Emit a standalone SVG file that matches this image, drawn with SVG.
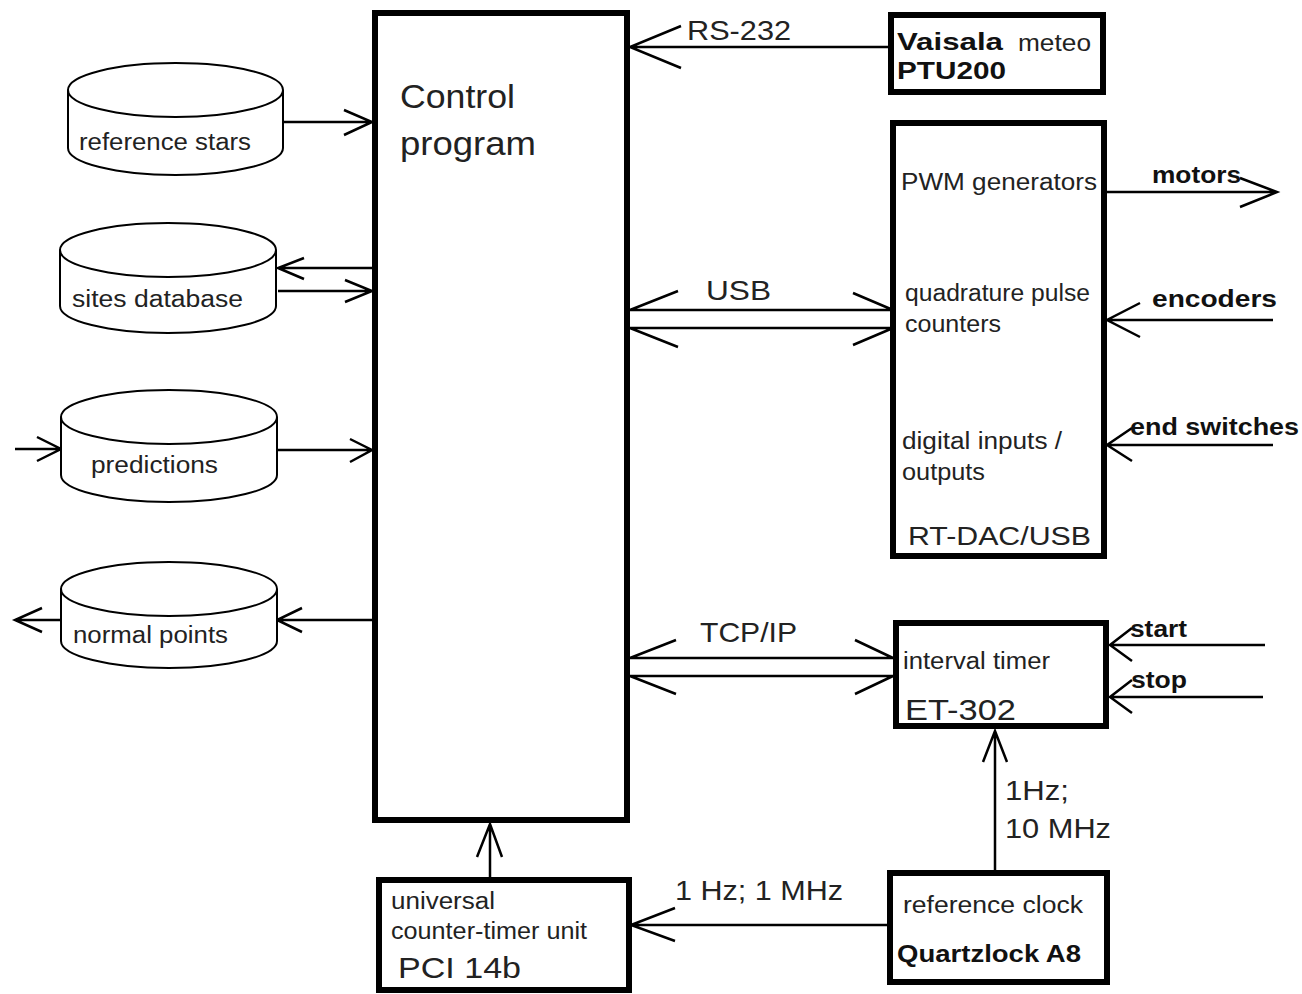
<svg xmlns="http://www.w3.org/2000/svg" width="1302" height="994" viewBox="0 0 1302 994">
<style>
.box{fill:#fff;stroke:#000;stroke-width:6}
.cyl{fill:#fff;stroke:#000;stroke-width:2}
.ln{fill:none;stroke:#000;stroke-width:2.5}
.t{font-family:"Liberation Sans",Arial,sans-serif;fill:#222}
.s{font-size:23px}
.m{font-size:28px}
.b{font-weight:bold;fill:#111}
</style>
<rect width="1302" height="994" fill="#fff"/>
<g id="connectors">
<path class="ln" d="M283,122 H372 M344,110 L372,122 L344,135"/>
<path class="ln" d="M372,268 H278 M304,258 L278,268 L304,279"/>
<path class="ln" d="M278,291 H372 M345,280 L372,291 L345,302"/>
<path class="ln" d="M15,449 H61 M37,437 L61,449 L37,461"/>
<path class="ln" d="M277,450 H372 M350,439 L372,450 L350,462"/>
<path class="ln" d="M372,620 H277 M302,608 L277,620 L302,632"/>
<path class="ln" d="M62,620 H15 M42,608 L15,620 L42,632"/>
<path class="ln" d="M890,47 H630 M681,26 L630,47 L681,68"/>
<path class="ln" d="M630,310 H893 M678,291 L630,310 M853,293 L893,310"/>
<path class="ln" d="M630,328 H893 M678,347 L630,328 M853,345 L893,328"/>
<path class="ln" d="M630,658 H893 M676,640 L630,658 M855,640 L893,658"/>
<path class="ln" d="M630,676 H893 M676,694 L630,676 M855,694 L893,676"/>
<path class="ln" d="M1105,192 H1277 M1240,178 L1277,192 L1240,207"/>
<path class="ln" d="M1273,320 H1107 M1140,303 L1107,320 L1140,337"/>
<path class="ln" d="M1273,445 H1107 M1132,428 L1107,445 L1132,461"/>
<path class="ln" d="M1265,645 H1110 M1132,628 L1110,645 L1132,661"/>
<path class="ln" d="M1263,697 H1110 M1132,680 L1110,697 L1132,713"/>
<path class="ln" d="M995,870 V731 M983,762 L995,731 L1007,762"/>
<path class="ln" d="M887,925 H631 M675,908 L631,925 L675,941"/>
<path class="ln" d="M490,877 V824 M477,857 L490,824 L502,857"/>
<text class="t m" x="687" y="40" fill="#333" textLength="104" lengthAdjust="spacingAndGlyphs">RS-232</text>
<text class="t m" x="706" y="300" textLength="65" lengthAdjust="spacingAndGlyphs">USB</text>
<text class="t m" x="700" y="642" textLength="97" lengthAdjust="spacingAndGlyphs">TCP/IP</text>
<text class="t s b" x="1152" y="183" textLength="89" lengthAdjust="spacingAndGlyphs">motors</text>
<text class="t s b" x="1152" y="307" textLength="125" lengthAdjust="spacingAndGlyphs">encoders</text>
<text class="t s b" x="1130" y="435" textLength="169" lengthAdjust="spacingAndGlyphs">end switches</text>
<text class="t s b" x="1130" y="637" textLength="57" lengthAdjust="spacingAndGlyphs">start</text>
<text class="t s b" x="1131" y="688" textLength="56" lengthAdjust="spacingAndGlyphs">stop</text>
<text class="t m" x="1005" y="800" textLength="64" lengthAdjust="spacingAndGlyphs">1Hz;</text>
<text class="t m" x="1005" y="838" textLength="106" lengthAdjust="spacingAndGlyphs">10 MHz</text>
<text class="t m" x="675" y="900" textLength="168" lengthAdjust="spacingAndGlyphs">1 Hz; 1 MHz</text>
</g>
<g id="reference-stars">
<path class="cyl" d="M68,90 V148 A107.5,27 0 0 0 283,148 V90"/>
<ellipse class="cyl" cx="175.5" cy="90" rx="107.5" ry="27"/>
<text class="t s" x="79" y="150" textLength="172" lengthAdjust="spacingAndGlyphs">reference stars</text>
</g>
<g id="sites-database">
<path class="cyl" d="M60,250 V306 A108,27 0 0 0 276,306 V250"/>
<ellipse class="cyl" cx="168" cy="250" rx="108" ry="27"/>
<text class="t s" x="72" y="307" textLength="171" lengthAdjust="spacingAndGlyphs">sites database</text>
</g>
<g id="predictions">
<path class="cyl" d="M61,417 V475 A108,27 0 0 0 277,475 V417"/>
<ellipse class="cyl" cx="169" cy="417" rx="108" ry="27"/>
<text class="t s" x="91" y="473" textLength="127" lengthAdjust="spacingAndGlyphs">predictions</text>
</g>
<g id="normal-points">
<path class="cyl" d="M61,589 V641 A108,27 0 0 0 277,641 V589"/>
<ellipse class="cyl" cx="169" cy="589" rx="108" ry="27"/>
<text class="t s" x="73" y="643" textLength="155" lengthAdjust="spacingAndGlyphs">normal points</text>
</g>
<g id="control-program">
<rect class="box" x="375" y="13" width="252" height="807"/>
<text class="t" x="400" y="108" font-size="33" textLength="115" lengthAdjust="spacingAndGlyphs">Control</text>
<text class="t" x="400" y="155" font-size="33" textLength="136" lengthAdjust="spacingAndGlyphs">program</text>
</g>
<g id="vaisala">
<rect class="box" x="891" y="15" width="212" height="77"/>
<text class="t b" x="897" y="50" font-size="24" textLength="106" lengthAdjust="spacingAndGlyphs">Vaisala</text>
<text class="t s" x="1018" y="51" textLength="73" lengthAdjust="spacingAndGlyphs">meteo</text>
<text class="t b" x="897" y="79" font-size="24" textLength="109" lengthAdjust="spacingAndGlyphs">PTU200</text>
</g>
<g id="rt-dac">
<rect class="box" x="893" y="123" width="211" height="433"/>
<text class="t s" x="901" y="190" textLength="196" lengthAdjust="spacingAndGlyphs">PWM generators</text>
<text class="t s" x="905" y="301" textLength="185" lengthAdjust="spacingAndGlyphs">quadrature pulse</text>
<text class="t s" x="905" y="332" textLength="96" lengthAdjust="spacingAndGlyphs">counters</text>
<text class="t s" x="902" y="449" textLength="160" lengthAdjust="spacingAndGlyphs">digital inputs /</text>
<text class="t s" x="902" y="480" textLength="83" lengthAdjust="spacingAndGlyphs">outputs</text>
<text class="t" x="908" y="545" font-size="26" textLength="183" lengthAdjust="spacingAndGlyphs">RT-DAC/USB</text>
</g>
<g id="interval-timer">
<rect class="box" x="896" y="623" width="210" height="103"/>
<text class="t s" x="903" y="669" textLength="147" lengthAdjust="spacingAndGlyphs">interval timer</text>
<text class="t" x="905" y="720" font-size="30" textLength="111" lengthAdjust="spacingAndGlyphs">ET-302</text>
</g>
<g id="reference-clock">
<rect class="box" x="890" y="873" width="217" height="109"/>
<text class="t s" x="903" y="913" textLength="180" lengthAdjust="spacingAndGlyphs">reference clock</text>
<text class="t b" x="897" y="962" font-size="23" textLength="184" lengthAdjust="spacingAndGlyphs">Quartzlock A8</text>
</g>
<g id="pci">
<rect class="box" x="379" y="880" width="250" height="110"/>
<text class="t s" x="391" y="909" textLength="104" lengthAdjust="spacingAndGlyphs">universal</text>
<text class="t s" x="391" y="939" textLength="196" lengthAdjust="spacingAndGlyphs">counter-timer unit</text>
<text class="t" x="398" y="978" font-size="29" textLength="123" lengthAdjust="spacingAndGlyphs">PCI 14b</text>
</g>
</svg>
